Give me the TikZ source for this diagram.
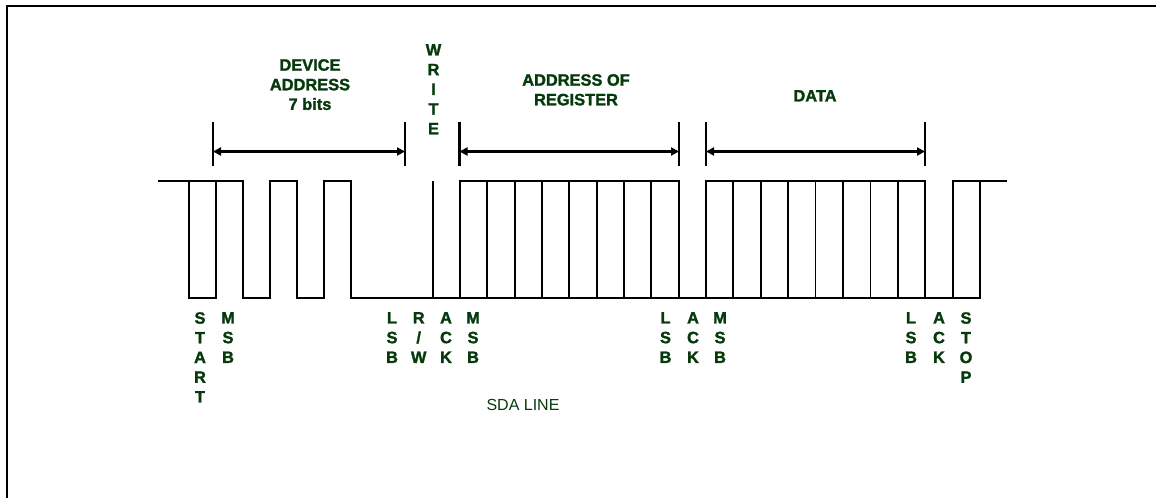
\documentclass[tikz,border=0pt]{standalone}
\usepackage{fontspec}
\setmainfont{Liberation Sans}[BoldFeatures={FakeBold=1.6}]
\usetikzlibrary{arrows.meta}
\definecolor{lblgreen}{RGB}{6,58,12}
\begin{document}
\begin{tikzpicture}[x=1pt,y=-1pt,
  frame/.style={line width=2pt},
  wave/.style={line width=1.9pt, line join=miter},
  tickline/.style={line width=2.2pt},
  dimarrow/.style={line width=3.5pt, {Triangle[length=8pt,width=8pt]}-{Triangle[length=8pt,width=8pt]}},
  lbl/.style={text=lblgreen, font=\fontsize{16.4}{19.6}\selectfont\bfseries, align=center, inner sep=0pt, anchor=north},
  col/.style={lbl, font=\fontsize{16.4}{19.7}\selectfont\bfseries},
  plain/.style={text=lblgreen, font=\fontsize{16}{18}\selectfont, inner sep=0pt}]
\useasboundingbox (0,0) rectangle (1156,498);

% frame
\coordinate (fTL) at (7,6);
\coordinate (fTR) at (1156,6);
\coordinate (fBL) at (7,498);
\draw[frame] (fTR) -- (fTL) -- (fBL);

% dimension ticks
\foreach \n/\x in {a/213, b/405, c/459.5, d/679, e/706, f/925}{
  \coordinate (\n t) at (\x,122);
  \coordinate (\n b) at (\x,166);
  \coordinate (\n m) at (\x,151.5);
  \draw[tickline] (\n t) -- (\n b);
}
\draw[dimarrow] (am) -- (bm);
\draw[dimarrow] (cm) -- (dm);
\draw[dimarrow] (em) -- (fm);

% waveform
\draw[wave] (158,181) -| (189,298) -| (216,181) -| (243,298) -| (270,181) -| (297,298)
  -| (324,181) -| (351,298) -| (460,181) -| (679,298) -| (706,181) -| (925,298)
  -| (953,181) -- (1007,181);
\draw[wave] (189,181) -- (216,181);
\draw[wave] (433,181) -- (433,298);
\draw[wave] (460,298) -- (679,298);
\draw[wave] (706,298) -- (925,298);
\draw[wave] (953,298) -- (980,298) -- (980,181);
\foreach \x in {487.3,514.7,542,569.3,596.7,624,651.3,733.3,760.7,788,815.5,843,870.5,898}{
  \draw[wave] (\x,181) -- (\x,298);
}

% top labels
\node[lbl] (devaddr) at (310,59) {DEVICE\\ADDRESS\\7 bits};
\node[col] (write) at (433.5,44) {W\\R\\I\\T\\E};
\node[lbl] (regaddr) at (576,74) {ADDRESS OF\\REGISTER};
\node[lbl] (data) at (815,90) {DATA};

% bottom labels
\node[col] (lstart) at (200,312) {S\\T\\A\\R\\T};
\node[col] (lmsb1) at (228,312) {M\\S\\B};
\node[col] (llsb1) at (392,312) {L\\S\\B};
\node[col] (lrw) at (418.7,312) {R\\/\\W};
\node[col] (lack1) at (446,312) {A\\C\\K};
\node[col] (lmsb2) at (473,312) {M\\S\\B};
\node[col] (llsb2) at (665.5,312) {L\\S\\B};
\node[col] (lack2) at (693,312) {A\\C\\K};
\node[col] (lmsb3) at (720,312) {M\\S\\B};
\node[col] (llsb3) at (911,312) {L\\S\\B};
\node[col] (lack3) at (939,312) {A\\C\\K};
\node[col] (lstop) at (966,312) {S\\T\\O\\P};

\node[plain] (sda) at (523,405) {SDA LINE};
\end{tikzpicture}
\end{document}
